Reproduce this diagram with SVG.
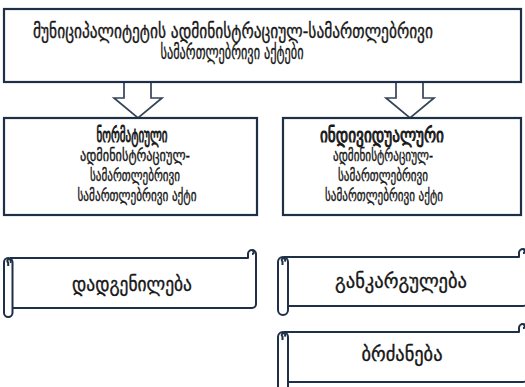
<svg xmlns="http://www.w3.org/2000/svg" width="525" height="387" viewBox="0 0 525 387">
  <style>
    .box { fill: #ffffff; stroke: #1f2f46; stroke-width: 2.2; }
    .scroll { fill: #ffffff; stroke: #1f2f46; stroke-width: 2; stroke-linejoin: round; }
    .arrow { fill: #ffffff; stroke: #34445a; stroke-width: 1.7; stroke-linejoin: miter; }
    .t { font-family: "DejaVu Sans", "Noto Sans", sans-serif; fill: #161616; stroke: #161616; stroke-width: 0.35; text-anchor: middle; }
    .title { font-size: 19px; }
    .head { font-size: 20px; stroke-width: 0.9; }
    .sub { font-size: 16px; }
    .lbl { font-size: 19px; }
  </style>
  <rect width="525" height="387" fill="#ffffff"/>

  <!-- block arrows from the header to both categories -->
  <g id="connectors">
    <path class="arrow" d="M124 82 V98 H114 L138 118 L162 98 H151 V82"/>
    <path class="arrow" d="M396 82 V98 H386 L410 118 L434 98 H423 V82"/>
  </g>

  <g id="header">
    <rect class="box" x="4" y="9" width="517" height="73"/>
    <text class="t title" x="233" y="38" textLength="400" lengthAdjust="spacingAndGlyphs">მუნიციპალიტეტის ადმინისტრაციულ-სამართლებრივი</text>
    <text class="t title" x="232" y="59" textLength="143" lengthAdjust="spacingAndGlyphs">სამართლებრივი აქტები</text>
  </g>

  <g id="normative">
    <rect class="box" x="4" y="118" width="253" height="97"/>
    <text class="t head" x="132" y="142" textLength="71" lengthAdjust="spacingAndGlyphs">ნორმატიული</text>
    <text class="t sub" x="135" y="161" textLength="110" lengthAdjust="spacingAndGlyphs">ადმინისტრაციულ-</text>
    <text class="t sub" x="135" y="181" textLength="90" lengthAdjust="spacingAndGlyphs">სამართლებრივი</text>
    <text class="t sub" x="137" y="201" textLength="119" lengthAdjust="spacingAndGlyphs">სამართლებრივი  აქტი</text>
  </g>

  <g id="individual">
    <rect class="box" x="283" y="118" width="238" height="97"/>
    <text class="t head" x="382" y="142" textLength="124" lengthAdjust="spacingAndGlyphs">ინდივიდუალური</text>
    <text class="t sub" x="383" y="161" textLength="100" lengthAdjust="spacingAndGlyphs">ადმინისტრაციულ-</text>
    <text class="t sub" x="383" y="181" textLength="90" lengthAdjust="spacingAndGlyphs">სამართლებრივი</text>
    <text class="t sub" x="384" y="201" textLength="118" lengthAdjust="spacingAndGlyphs">სამართლებრივი  აქტი</text>
  </g>

  <g id="resolution">
    <path class="scroll" d="M10 258 H248 V254 A4 4 0 0 1 256 254 V304 A4 4 0 0 1 252 308 H10"/>
    <path class="scroll" d="M252 254 A1.8 1.8 0 1 0 252 250.4" fill="none"/>
    <rect class="scroll" x="4" y="258" width="8.5" height="59" rx="4.2"/>
    <path class="scroll" d="M8.2 266 V262.5 A1.8 1.8 0 1 1 10 262.5" fill="none"/>
    <text class="t lbl" x="132" y="291" textLength="120" lengthAdjust="spacingAndGlyphs">დადგენილება</text>
  </g>

  <g id="order">
    <path class="scroll" d="M284 257 H519 V253 A4 4 0 0 1 527 253 V302 A4 4 0 0 1 523 306 H284"/>
    <path class="scroll" d="M523 253 A1.8 1.8 0 1 0 523 249.4" fill="none"/>
    <rect class="scroll" x="278" y="257" width="10" height="58" rx="5"/>
    <path class="scroll" d="M282.5 265 V261.5 A1.8 1.8 0 1 1 284.5 261.5" fill="none"/>
    <text class="t lbl" x="401" y="288" textLength="132" lengthAdjust="spacingAndGlyphs">განკარგულება</text>
  </g>

  <g id="command">
    <path class="scroll" d="M284 332 H519 V328 A4 4 0 0 1 527 328 V378 A4 4 0 0 1 523 382 H284"/>
    <path class="scroll" d="M523 328 A1.8 1.8 0 1 0 523 324.4" fill="none"/>
    <rect class="scroll" x="278" y="332" width="10" height="70" rx="5"/>
    <path class="scroll" d="M282.5 340 V336.5 A1.8 1.8 0 1 1 284.5 336.5" fill="none"/>
    <text class="t lbl" x="402" y="361" textLength="81" lengthAdjust="spacingAndGlyphs">ბრძანება</text>
  </g>
</svg>
